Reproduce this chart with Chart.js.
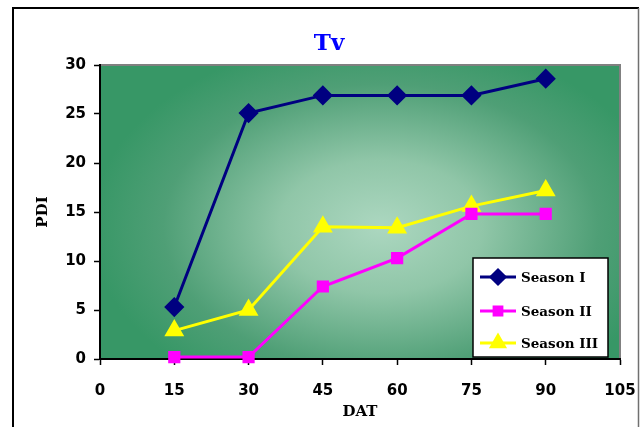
<!DOCTYPE html>
<html>
<head>
<meta charset="utf-8">
<script src="https://cdn.jsdelivr.net/npm/chart.js@4/dist/chart.umd.min.js"></script>
<style>
  html, body { margin: 0; padding: 0; background: #ffffff; }
  #wrap { width: 640px; height: 427px; position: relative; }
</style>
</head>
<body>
<div id="wrap"><canvas id="c" width="640" height="427"></canvas></div>
<script>
// Days after treatment (x) and disease index per season
const dat = [15, 30, 45, 60, 75, 90];
const seasonI = [5.3, 25.1, 26.9, 26.9, 26.9, 28.6];
const seasonII = [0.2, 0.2, 7.4, 10.3, 14.8, 14.8];
const seasonIII = [2.9, 5.0, 13.5, 13.4, 15.6, 17.2];
const seriesNames = ['Season I', 'Season II', 'Season III'];
const xTicks = [0, 15, 30, 45, 60, 75, 90, 105];
const yTicks = [0, 5, 10, 15, 20, 25, 30];
const chartTitle = 'Tv';

const SERIF = '"DejaVu Serif", "Liberation Serif", serif';
const SANS = '"DejaVu Sans", "Liberation Sans", sans-serif';

const toPoints = vals => dat.map((d, i) => ({ x: d, y: vals[i] }));

// Green "from centre" fill behind the plot, the outer frame and the title
const backdrop = {
  id: 'backdrop',
  beforeDraw(chart) {
    const { ctx, chartArea: a } = chart;
    ctx.save();
    ctx.fillStyle = '#ffffff';
    ctx.fillRect(0, 0, chart.width, chart.height);
    // outer frame: black top and left, grey right
    ctx.strokeStyle = '#000000';
    ctx.lineWidth = 2;
    ctx.beginPath();
    ctx.moveTo(13, 440); ctx.lineTo(13, 8); ctx.lineTo(639, 8);
    ctx.stroke();
    ctx.strokeStyle = '#707070';
    ctx.lineWidth = 1.5;
    ctx.beginPath();
    ctx.moveTo(638.5, 8); ctx.lineTo(638.5, 440);
    ctx.stroke();

    ctx.fillStyle = '#0000ff';
    ctx.font = 'bold 23px ' + SERIF;
    ctx.textAlign = 'center';
    ctx.textBaseline = 'middle';
    ctx.fillText(chartTitle, 329, 44);

    ctx.beginPath();
    ctx.rect(a.left, a.top, a.right - a.left, a.bottom - a.top);
    ctx.clip();
    const cx = a.left + (a.right - a.left) * 0.54;
    const cy = a.top + (a.bottom - a.top) * 0.55;
    const rx = 290, ry = 190;
    ctx.translate(cx, cy);
    ctx.scale(1, ry / rx);
    const g = ctx.createRadialGradient(0, 0, 0, 0, 0, rx);
    g.addColorStop(0, '#acd7c0');
    g.addColorStop(0.35, '#90c6a8');
    g.addColorStop(0.75, '#4f9f76');
    g.addColorStop(1, '#379766');
    ctx.fillStyle = g;
    ctx.fillRect(-rx * 2, -rx * 2, rx * 4, rx * 4);
    ctx.restore();

    // grey top and right border of the plot
    ctx.save();
    ctx.strokeStyle = '#808080';
    ctx.lineWidth = 2;
    ctx.beginPath();
    ctx.moveTo(a.left, a.top);
    ctx.lineTo(a.right, a.top);
    ctx.lineTo(a.right, a.bottom);
    ctx.stroke();
    ctx.restore();
  }
};

// Boxed legend sitting in the lower right of the plot
const boxLegend = {
  id: 'boxLegend',
  afterDatasetsDraw(chart) {
    const { ctx } = chart;
    const x0 = 473, y0 = 258, w = 135, h = 99;
    ctx.save();
    ctx.fillStyle = '#ffffff';
    ctx.fillRect(x0, y0, w, h);
    ctx.strokeStyle = '#000000';
    ctx.lineWidth = 1.5;
    ctx.strokeRect(x0, y0, w, h);
    const rows = [277, 311, 343];
    chart.data.datasets.forEach((ds, i) => {
      const y = rows[i];
      ctx.strokeStyle = ds.borderColor;
      ctx.lineWidth = 3;
      ctx.beginPath();
      ctx.moveTo(480, y);
      ctx.lineTo(516, y);
      ctx.stroke();
      ctx.fillStyle = ds.pointBackgroundColor;
      ctx.strokeStyle = ds.pointBorderColor;
      Chart.helpers.drawPoint(ctx, {
        pointStyle: ds.pointStyle,
        radius: ds.pointRadius - 1,
        rotation: 0,
        borderWidth: 1
      }, 498, y);
      ctx.fillStyle = '#000000';
      ctx.font = 'bold 13.5px ' + SERIF;
      ctx.textBaseline = 'middle';
      ctx.textAlign = 'left';
      ctx.fillText(ds.label, 521, y + 1);
    });
    ctx.restore();
  }
};

const mk = (label, vals, color, style, r) => ({
  label,
  data: toPoints(vals),
  borderColor: color,
  backgroundColor: color,
  pointBackgroundColor: color,
  pointBorderColor: color,
  pointStyle: style,
  pointRadius: r,
  pointHoverRadius: r,
  borderWidth: 3,
  tension: 0,
  clip: false
});

new Chart(document.getElementById('c'), {
  type: 'line',
  data: {
    datasets: [
      mk(seriesNames[0], seasonI, '#000080', 'rectRot', 8),
      mk(seriesNames[1], seasonII, '#ff00ff', 'rect', 6.5),
      mk(seriesNames[2], seasonIII, '#ffff00', 'triangle', 8.5)
    ]
  },
  options: {
    responsive: false,
    animation: false,
    layout: { padding: { left: 34, right: 20, top: 65, bottom: 0 } },
    plugins: {
      legend: { display: false },
      tooltip: { enabled: false },
      title: { display: false }
    },
    scales: {
      x: {
        type: 'linear',
        min: 0,
        max: 105,
        afterBuildTicks(scale) { scale.ticks = xTicks.map(v => ({ value: v })); },
        afterFit(scale) {
          scale.height = 68;
          scale.paddingLeft = 0;
          scale.paddingRight = 0;
        },
        grid: { drawOnChartArea: false, tickLength: 6, tickColor: '#000000', tickWidth: 1.5 },
        border: { color: '#000000', width: 2 },
        ticks: {
          color: '#000000',
          padding: 17,
          maxRotation: 0,
          font: { family: SANS, size: 15, weight: 'bold' }
        },
        title: {
          display: true,
          text: 'DAT',
          color: '#000000',
          padding: { top: 0, bottom: 6 },
          font: { family: SERIF, size: 15, weight: 'bold' }
        }
      },
      y: {
        min: 0,
        max: 30,
        afterBuildTicks(scale) { scale.ticks = yTicks.map(v => ({ value: v })); },
        afterFit(scale) {
          scale.width = 66;
          scale.paddingTop = 0;
          scale.paddingBottom = 0;
        },
        grid: { drawOnChartArea: false, tickLength: 6, tickColor: '#000000', tickWidth: 1.5 },
        border: { color: '#000000', width: 2 },
        ticks: {
          color: '#000000',
          padding: 8,
          font: { family: SANS, size: 15, weight: 'bold' }
        },
        title: {
          display: true,
          text: 'PDI',
          color: '#000000',
          padding: { top: 0, bottom: 0 },
          font: { family: SERIF, size: 15, weight: 'bold' }
        }
      }
    }
  },
  plugins: [backdrop, boxLegend]
});
</script>
</body>
</html>
